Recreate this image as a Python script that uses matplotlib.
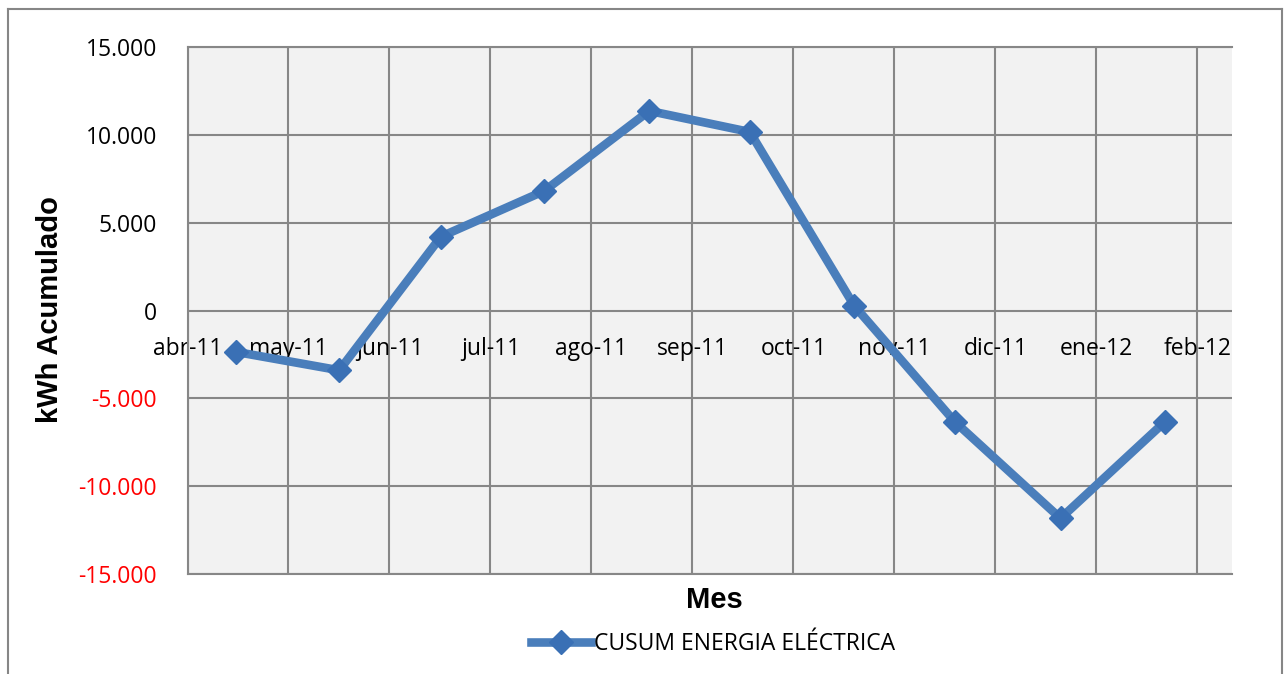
import matplotlib
matplotlib.use("Agg")
import matplotlib.pyplot as plt
from matplotlib.lines import Line2D
from matplotlib.ticker import FuncFormatter

plt.rcParams['font.family'] = ['Open Sans', 'DejaVu Sans']

# ---- data ----
month_labels = ["abr-11", "may-11", "jun-11", "jul-11", "ago-11", "sep-11",
                "oct-11", "nov-11", "dic-11", "ene-12", "feb-12"]
point_x = [0.477, 1.503, 2.510, 3.533, 4.572, 5.569, 6.602, 7.599, 8.645, 9.678]
cusum_kwh = [-2350, -3400, 4200, 6800, 11350, 10150, 270, -6330, -11820, -6330]
y_ticks = [-15000, -10000, -5000, 0, 5000, 10000, 15000]
series_name = "CUSUM ENERGIA ELÉCTRICA"

W, H = 1284, 674
fig = plt.figure(figsize=(W / 100, H / 100), dpi=100)
fig.patch.set_facecolor("white")

L, R, T, B = 187.5, 1231.7, 46.7, 574.3
ax = fig.add_axes([L / W, 1 - B / H, (R - L) / W, (B - T) / H])
ax.set_facecolor("#F2F2F2")

grid_c = "#878787"
line_c = "#4A7EBB"
mark_c = "#3A70B5"

ax.plot(point_x, cusum_kwh, color=line_c, lw=6.2, marker="D", ms=12,
        mfc=mark_c, mec=mark_c, solid_joinstyle="miter", zorder=5,
        label=series_name)

ax.set_xlim(0, 10.34)
ax.set_ylim(-15000, 15000)
ax.set_xticks(range(len(month_labels)))
ax.set_xticklabels(month_labels)
ax.set_yticks(y_ticks)

def fmt(v, pos):
    s = f"{abs(int(round(v))):,}".replace(",", ".")
    return ("-" if v < 0 else "") + s
ax.yaxis.set_major_formatter(FuncFormatter(fmt))

ax.grid(True, color=grid_c, lw=1.5)
ax.set_axisbelow(True)
ax.tick_params(axis="both", length=0, labelsize=16.5)
ax.tick_params(axis="x", pad=19)
ax.tick_params(axis="y", pad=22)

for lbl, v in zip(ax.get_yticklabels(), y_ticks):
    lbl.set_color("#FF0000" if v < 0 else "black")

ax.spines["bottom"].set_position(("data", 0))
ax.spines["bottom"].set_visible(False)
ax.spines["right"].set_visible(False)
for s in ("left", "top"):
    ax.spines[s].set_color(grid_c)
    ax.spines[s].set_linewidth(1.5)
ax.axhline(-15000, color=grid_c, lw=1.5, clip_on=False, zorder=1)

fig.text(50 / W, 1 - 310 / H, "kWh Acumulado", rotation=90, ha="center",
         va="center", fontsize=21, fontweight="bold", family="Liberation Sans")
fig.text(714 / W, 1 - 600 / H, "Mes", ha="center", va="center",
         fontsize=21, fontweight="bold", family="Liberation Sans")

leg = fig.legend(handles=[ax.lines[0]], loc="center",
                 bbox_to_anchor=(713.5 / W, 1 - 644 / H), frameon=False,
                 fontsize=16.5, handlelength=2.6, handletextpad=0.15,
                 numpoints=1)

# outer chart border
bc = "#868686"
fig.add_artist(Line2D([8 / W, 8 / W], [0, 1 - 8.5 / H], transform=fig.transFigure, color=bc, lw=1.5))
fig.add_artist(Line2D([8 / W, 1282 / W], [1 - 8.5 / H, 1 - 8.5 / H], transform=fig.transFigure, color=bc, lw=1.5))
fig.add_artist(Line2D([1282 / W, 1282 / W], [0, 1 - 8.5 / H], transform=fig.transFigure, color=bc, lw=1.5))

fig.savefig("out.png", dpi=100)
